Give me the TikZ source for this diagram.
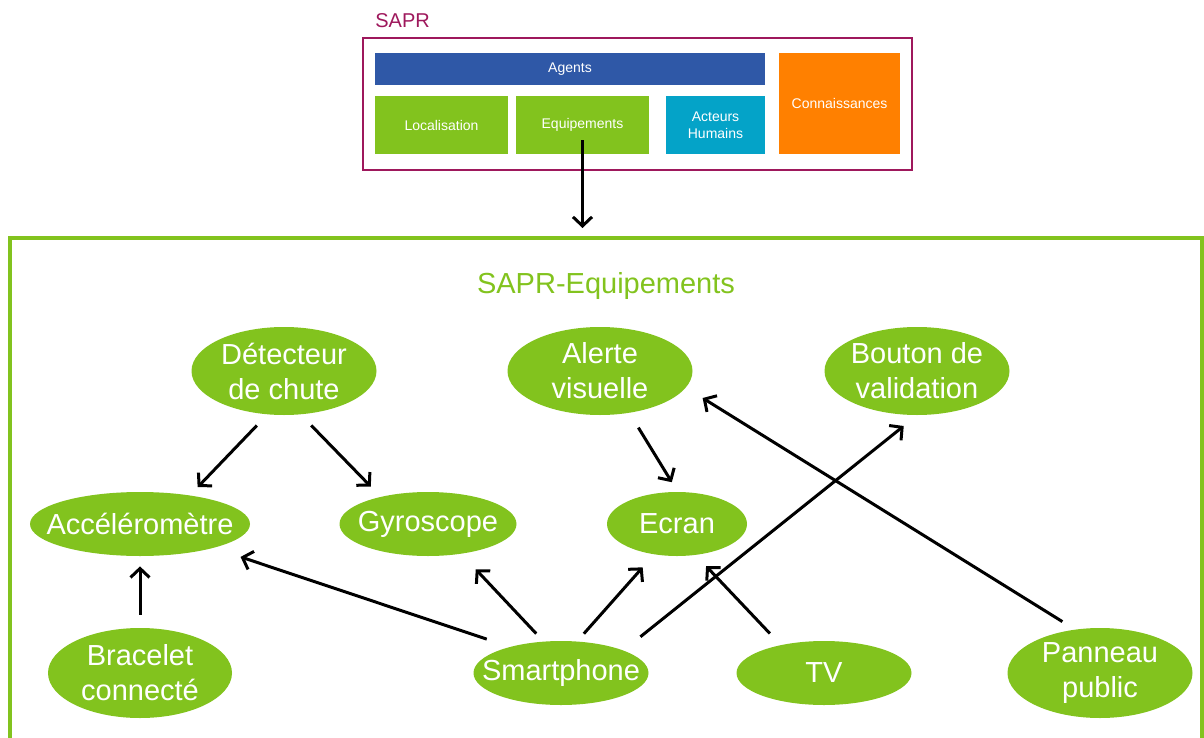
\documentclass[tikz,border=0pt]{standalone}
\usepackage{fontspec}
\setmainfont{Liberation Sans}
\usetikzlibrary{shapes.geometric,arrows.meta}

\definecolor{saprred}{RGB}{158,24,92}
\definecolor{eqgreen}{RGB}{130,195,30}
\definecolor{agblue}{RGB}{47,88,167}
\definecolor{hucyan}{RGB}{4,163,200}
\definecolor{knorange}{RGB}{255,128,0}

\begin{document}
\begin{tikzpicture}[%
        x=0.5pt, y=-0.5pt,
        mybox/.style={shape=rectangle, inner sep=0pt, text=white, align=center,
            font=\fontsize{7}{8.5}\selectfont},
        myellipse/.style={shape=ellipse, fill=eqgreen, inner xsep=-60pt, inner ysep=-30pt,
            text=white, align=center, font=\fontsize{14.5}{17.5}\selectfont},
        myarrow/.style={-{Straight Barb[length=4.5pt, width=9.5pt]}, line width=1.5pt}
    ]
        \useasboundingbox (0,0) rectangle (1204,738);

        % SAPR
        \node [draw=saprred, line width=1.2pt, minimum width=274.5pt, minimum height=66pt]
            (sapr) at (637.5,104) {};
        \node [anchor=base west, inner sep=0pt, text=saprred, font=\fontsize{10}{12}\selectfont]
            (saprlbl) at (375,28) {SAPR};
        \node [mybox, fill=agblue, minimum width=195pt, minimum height=16pt]
            (agents) at (570,69) {Agents};
        \node [mybox, fill=eqgreen, minimum width=66.5pt, minimum height=29pt]
            (local) at (441.5,125) {Localisation};
        \node [mybox, fill=eqgreen, minimum width=66.5pt, minimum height=29pt]
            (equip) at (582.5,125) {Equipements};
        \node [mybox, fill=hucyan, minimum width=49.5pt, minimum height=29pt]
            (acteurs) at (715.5,125) {Acteurs\\Humains};
        \node [mybox, fill=knorange, minimum width=60.5pt, minimum height=50.5pt]
            (conn) at (839.5,103.5) {Connaissances};

        % SAPR-Equipements
        \node [draw=eqgreen, line width=2pt, minimum width=596pt, minimum height=271pt]
            (eqbox) at (606,509) {};
        \node [anchor=base, inner sep=0pt, text=eqgreen, font=\fontsize{14.5}{17}\selectfont]
            (eqlbl) at (606,293) {SAPR-Equipements};

        \draw [myarrow, shorten <=7.5pt, shorten >=4pt] (equip.center) -- (equip.center |- eqbox.north);

        \node [myellipse, minimum width=92.5pt, minimum height=44pt] (det) at (284,371) {Détecteur\\de chute};
        \node [myellipse, minimum width=92.5pt, minimum height=44pt] (alerte) at (600,371) {Alerte\\visuelle};
        \node [myellipse, minimum width=92.5pt, minimum height=44pt] (bouton) at (917,371) {Bouton de\\validation};
        \node [myellipse, minimum width=110pt, minimum height=32pt] (acc) at (140,524) {Accéléromètre};
        \node [myellipse, minimum width=88.5pt, minimum height=32pt] (gyro) at (428,524) {Gyroscope};
        \node [myellipse, minimum width=70pt, minimum height=32pt] (ecran) at (677,524) {Ecran};
        \node [myellipse, minimum width=92pt, minimum height=45pt] (brac) at (140,673) {Bracelet\\connecté};
        \node [myellipse, minimum width=87.5pt, minimum height=32pt] (smart) at (561,673) {Smartphone};
        \node [myellipse, minimum width=87.5pt, minimum height=32pt] (tv) at (824,673) {TV};
        \node [myellipse, minimum width=92.5pt, minimum height=45pt] (panneau) at (1100,673) {Panneau\\public};

        \foreach \a/\b/\sa/\sb in
            {det.249/acc.30/7.5/5.5, det.291/gyro.150/7.5/7, alerte.305/ecran.89/8.5/5.5,
             brac.north/acc.south/6.5/5, smart.153/acc.342/12/14, smart.119/gyro.318/5.25/10.5,
             smart.63/ecran.233/5/8.5, smart.20/bouton.south/10.8/8.5,
             tv.147/ecran.301/7.8/7.5, panneau.120/alerte.349/7.3/9.75}
            \draw [myarrow, shorten <=\sa pt, shorten >=\sb pt] (\a) -- (\b);
    \end{tikzpicture}
\end{document}
